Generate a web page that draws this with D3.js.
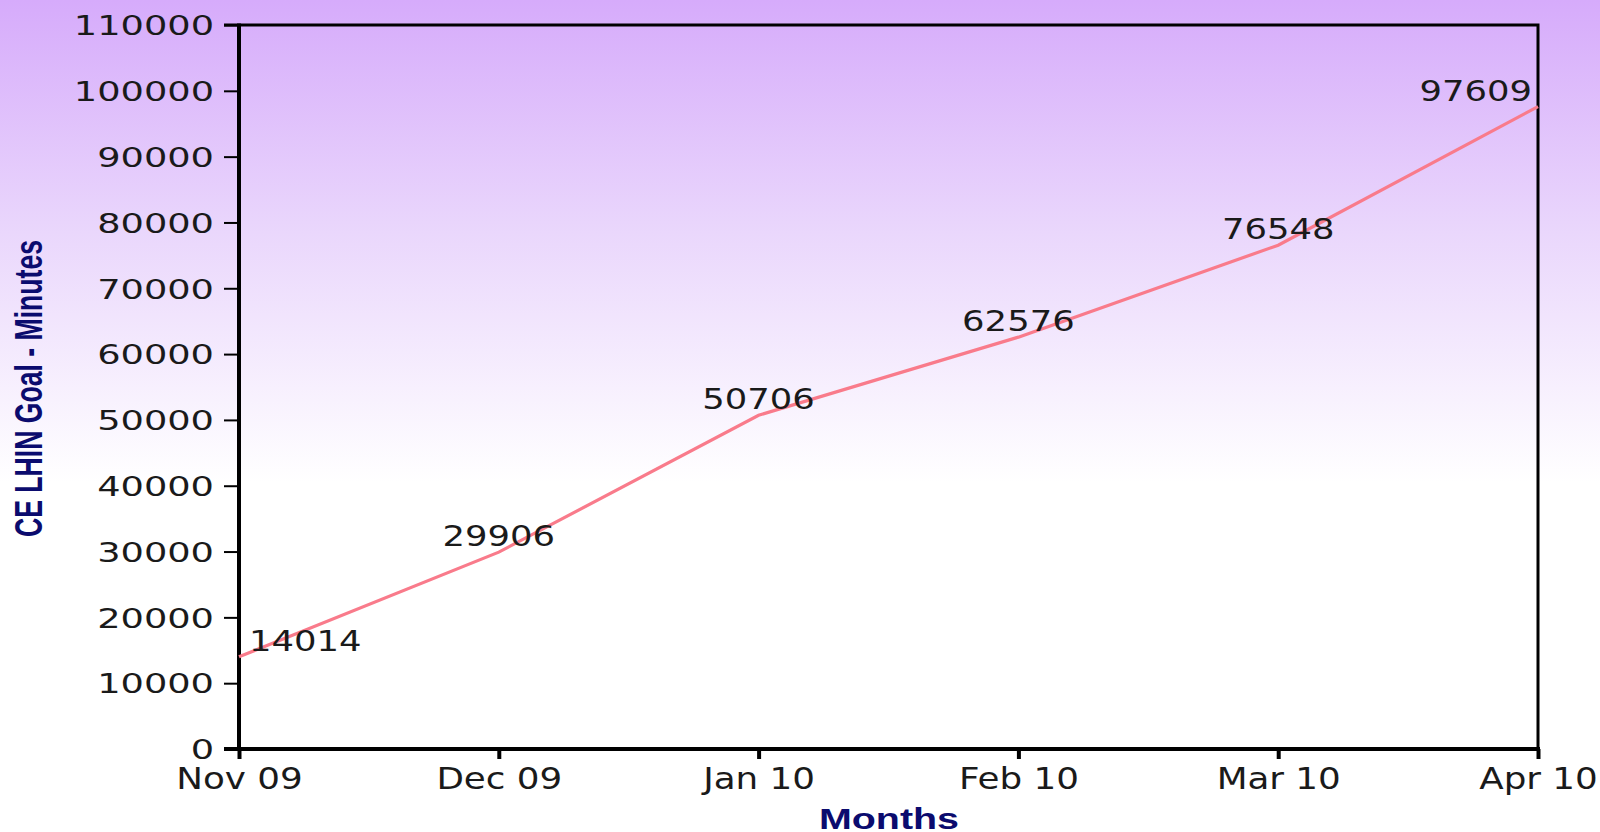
<!DOCTYPE html>
<html lang="en">
<head>
  <meta charset="UTF-8" />
  <title>CE LHIN Goal - Minutes</title>
  <style>
    body { margin: 0; background: #fff; }
    svg { display: block; }
    .tick-label { font-family: "DejaVu Sans", sans-serif; fill: #1a1a1a; }
    .axis-title { font-family: "Liberation Sans", Arial, sans-serif; font-weight: bold; fill: #0b0b6e; }
  </style>
</head>
<body>
  <div id="chart"></div>

  <script src="https://d3js.org/d3.v7.min.js"></script>
  <script>
    // Data
    const months = ["Nov 09", "Dec 09", "Jan 10", "Feb 10", "Mar 10", "Apr 10"];
    const minutes = [14014, 29906, 50706, 62576, 76548, 97609];
    const yTicks = [0, 10000, 20000, 30000, 40000, 50000, 60000, 70000, 80000, 90000, 100000, 110000];

    const W = 1600, H = 832;
    const margin = { top: 25, right: 62, bottom: 83, left: 239 };
    const plotL = margin.left, plotR = W - margin.right;
    const plotT = margin.top, plotB = H - margin.bottom;

    // the old chart's glyphs are wider than DejaVu, so stretch text horizontally
    function stretch(sel, factor) {
      sel.each(function () {
        const w = this.getComputedTextLength();
        d3.select(this)
          .attr("textLength", w * factor)
          .attr("lengthAdjust", "spacingAndGlyphs");
      });
    }

    const svg = d3.select("#chart").append("svg")
      .attr("width", W)
      .attr("height", H);

    // Background gradient (purple at top fading to white)
    const defs = svg.append("defs");
    const grad = defs.append("linearGradient")
      .attr("id", "bg")
      .attr("x1", 0).attr("y1", 0).attr("x2", 0).attr("y2", 1);
    grad.append("stop").attr("offset", "0%").attr("stop-color", "#d6abfb");
    grad.append("stop").attr("offset", "28%").attr("stop-color", "#ead7fc");
    grad.append("stop").attr("offset", "58%").attr("stop-color", "#ffffff");
    grad.append("stop").attr("offset", "100%").attr("stop-color", "#ffffff");

    svg.append("rect")
      .attr("width", W).attr("height", H)
      .attr("fill", "url(#bg)");

    const x = d3.scalePoint()
      .domain(months)
      .range([plotL, plotR]);

    const y = d3.scaleLinear()
      .domain([0, 110000])
      .range([plotB, plotT]);

    // Frame on top and right
    svg.append("path")
      .attr("d", `M${plotL - 15},${plotT}H${plotR}V${plotB}`)
      .attr("fill", "none")
      .attr("stroke", "#000")
      .attr("stroke-width", 3);

    // Y axis
    const yAxis = svg.append("g")
      .attr("transform", `translate(${plotL},0)`)
      .call(d3.axisLeft(y).tickValues(yTicks).tickSize(15).tickPadding(10).tickFormat(d3.format("d")));
    yAxis.select(".domain").remove();
    yAxis.selectAll(".tick line").attr("stroke", "#000").attr("stroke-width", 2);
    yAxis.selectAll("text")
      .attr("class", "tick-label")
      .attr("fill", null)
      .style("font-size", "27px")
      .attr("dy", "0.36em")
      .call(stretch, 1.36);

    svg.append("line")
      .attr("x1", plotL).attr("x2", plotL)
      .attr("y1", plotT - 1.5).attr("y2", plotB + 2)
      .attr("stroke", "#000").attr("stroke-width", 4);

    // X axis
    const xAxis = svg.append("g")
      .attr("transform", `translate(0,${plotB})`)
      .call(d3.axisBottom(x).tickSize(10).tickPadding(9));
    xAxis.select(".domain").remove();
    xAxis.selectAll(".tick line").attr("stroke", "#000").attr("stroke-width", 4);
    xAxis.selectAll("text")
      .attr("class", "tick-label")
      .attr("fill", null)
      .style("font-size", "30px")
      .attr("dy", "0.71em")
      .call(stretch, 1.19);

    svg.append("line")
      .attr("x1", plotL - 15).attr("x2", plotR + 2)
      .attr("y1", plotB).attr("y2", plotB)
      .attr("stroke", "#000").attr("stroke-width", 4);

    // Line
    const pts = months.map((m, i) => ({ m, v: minutes[i] }));
    svg.append("path")
      .datum(pts)
      .attr("fill", "none")
      .attr("stroke", "#f97b8b")
      .attr("stroke-width", 3.2)
      .attr("d", d3.line().x(d => x(d.m)).y(d => y(d.v)));

    // Value labels, centred on the point but kept inside the plot
    const labels = svg.append("g");
    pts.forEach(d => {
      const t = labels.append("text")
        .attr("class", "tick-label")
        .style("font-size", "29px")
        .attr("text-anchor", "middle")
        .attr("y", y(d.v) - 6)
        .text(d.v)
        .call(stretch, 1.22);
      const w = +t.attr("textLength");
      let cx = x(d.m);
      cx = Math.max(plotL + 10 + w / 2, Math.min(plotR - 6 - w / 2, cx));
      t.attr("x", cx);
    });

    // Axis titles
    svg.append("text")
      .attr("class", "axis-title")
      .attr("transform", `translate(42,${(240 + 537) / 2}) rotate(-90)`)
      .attr("text-anchor", "middle")
      .style("font-size", "38px")
      .attr("textLength", 297)
      .attr("lengthAdjust", "spacingAndGlyphs")
      .text("CE LHIN Goal - Minutes");

    svg.append("text")
      .attr("class", "axis-title")
      .attr("x", 889)
      .attr("y", 829)
      .attr("text-anchor", "middle")
      .style("font-size", "29px")
      .attr("textLength", 140)
      .attr("lengthAdjust", "spacingAndGlyphs")
      .text("Months");
  </script>
</body>
</html>
